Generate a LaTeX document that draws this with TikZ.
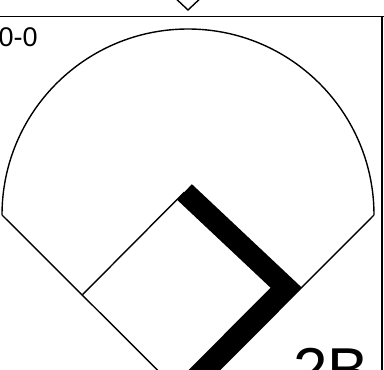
\documentclass[tikz,border=0pt]{standalone}
\usepackage{fontspec}
\setmainfont{Liberation Sans}
\begin{document}
\begin{tikzpicture}[x=1pt,y=-1pt,
  thinline/.style={line width=1.4pt, black},
  pathline/.style={line width=21.5pt, line join=miter, line cap=butt, black},
  score/.style={font=\fontsize{27}{27}\selectfont, inner sep=0pt, anchor=base west},
  baselabel/.style={font=\fontsize{62}{62}\selectfont, inner sep=0pt, anchor=base west}]
\useasboundingbox (0,0) rectangle (384,370);
\clip (0,0) rectangle (384,370);
% points
\coordinate (L) at (2,215);
\coordinate (R) at (374,215);
\coordinate (H) at (188.5,401);
\coordinate (T) at (82.7,294.5);
\coordinate (S) at (184.5,192);
\coordinate (F) at (286,287.5);
\coordinate (E) at (150,424);
% frame
\draw[thinline] (0,16.5) -- (384,16.5);
\draw[thinline] (382,16.5) -- (382,371);
% home plate of panel above
\draw[thinline] (176.3,-1) -- (188,10) -- (199.7,-1);
% outfield fence
\draw[thinline] (L) arc[start angle=180, end angle=360, radius=186];
% foul lines
\draw[thinline] (L) -- (H);
\draw[thinline] (R) -- (H);
% base path third to second
\draw[thinline] (T) -- (S);
% highlighted path
\draw[pathline] (S) -- (F) -- (E);
% texts
\node[score] (score) at (-1.5,46) {0-0};
\node[baselabel] (base) at (293,391) {2B};
\end{tikzpicture}
\end{document}
